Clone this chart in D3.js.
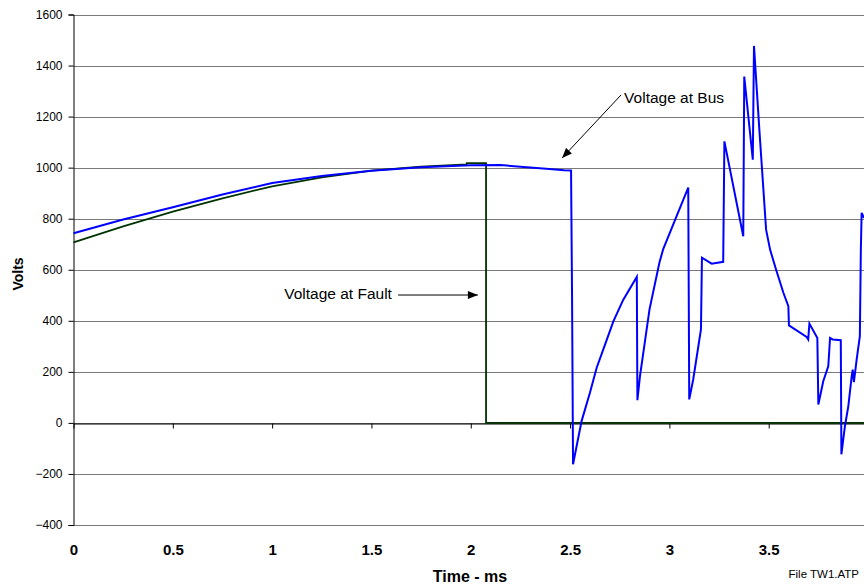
<!DOCTYPE html>
<html>
<head>
<meta charset="utf-8">
<script src="https://cdn.jsdelivr.net/npm/d3@7"></script>
<style>
  html, body { margin: 0; padding: 0; background: #fff; }
  svg { display: block; }
  text { font-family: Arial, "Liberation Sans", sans-serif; }
</style>
</head>
<body>
<svg id="chart" width="864" height="588"></svg>
<script>
// ---- data ----
const xTicks = [0, 0.5, 1, 1.5, 2, 2.5, 3, 3.5, 4];
const yTicks = [-400, -200, 0, 200, 400, 600, 800, 1000, 1200, 1400, 1600];

// Voltage at Bus (ms, V)
const busTime = [0, 0.25, 0.5, 0.75, 1.0, 1.25, 1.5, 1.75, 2.0, 2.15, 2.25, 2.38, 2.47, 2.505,
  2.510, 2.515, 2.558, 2.600, 2.634, 2.676, 2.718, 2.768, 2.836,
  2.839, 2.852, 2.900, 2.950, 2.969, 3.037, 3.095,
  3.100, 3.120, 3.159, 3.164, 3.213, 3.271, 3.277, 3.372, 3.377, 3.420, 3.426,
  3.453, 3.487, 3.507, 3.537, 3.574, 3.599, 3.602, 3.691, 3.699, 3.705, 3.745,
  3.750, 3.775, 3.800, 3.809, 3.822, 3.863, 3.866, 3.884, 3.901, 3.918, 3.923,
  3.929, 3.943, 3.959, 3.964, 3.968, 3.980];
const busVolts = [743, 797, 845, 895, 940, 967, 988, 1002, 1009, 1010, 1004, 996, 990, 989,
  502, -162, 7, 118, 216, 307, 398, 483, 572,
  89, 183, 445, 628, 681, 811, 922,
  92, 170, 366, 647, 624, 631, 1103, 731, 1357, 1031, 1477,
  1149, 757, 679, 601, 510, 457, 382, 337, 327, 389, 333,
  72, 164, 222, 333, 327, 324, -123, -12, 66, 183, 209,
  160, 249, 340, 679, 823, 803];

// Voltage at Fault (ms, V)
const faultTime = [0, 0.25, 0.5, 0.75, 1.0, 1.25, 1.5, 1.75, 1.98, 1.98, 2.077, 2.077, 4];
const faultVolts = [707, 770, 828, 880, 927, 962, 988, 1004, 1013, 1018, 1018, 0, 0];

// ---- chart ----
const svg = d3.select("#chart");
const x = d3.scaleLinear().domain([0, 4]).range([73.5, 868]);
const y = d3.scaleLinear().domain([-400, 1600]).range([525, 14.5]);
const font = "Arial, 'Liberation Sans', sans-serif";

// gridlines
svg.append("g").selectAll("line").data(yTicks).join("line")
  .attr("x1", x(0)).attr("x2", 864)
  .attr("y1", d => Math.round(y(d)) + 0.5).attr("y2", d => Math.round(y(d)) + 0.5)
  .attr("stroke", "#7a7a7a").attr("stroke-width", 1);

// y axis
const yAxis = svg.append("g").attr("transform", `translate(${x(0)},0)`)
  .call(d3.axisLeft(y).tickValues(yTicks).tickSize(5).tickPadding(6).tickFormat(d3.format("d")));
yAxis.selectAll("text").attr("font-size", 12).attr("font-family", font).attr("fill", "#000");
yAxis.selectAll("line, path").attr("stroke", "#000");

// x axis at zero line (ticks only)
const xAxis0 = svg.append("g").attr("transform", `translate(0,${Math.round(y(0)) + 0.5})`)
  .call(d3.axisBottom(x).tickValues(xTicks).tickSize(5).tickSizeOuter(0).tickFormat(""));
xAxis0.selectAll("line, path").attr("stroke", "#000");

// x tick labels at bottom
const xAxisLab = svg.append("g").attr("transform", `translate(0,525)`)
  .call(d3.axisBottom(x).tickValues(xTicks).tickSize(0).tickPadding(19).tickFormat(d3.format("")));
xAxisLab.select("path").remove();
xAxisLab.selectAll("text").attr("font-size", 15).attr("font-weight", "bold")
  .attr("font-family", font).attr("fill", "#000");

const line = d3.line().x(d => x(d[0])).y(d => y(d[1]));

// fault series
svg.append("path")
  .datum(faultTime.map((t, i) => [t, faultVolts[i]]))
  .attr("d", line).attr("fill", "none")
  .attr("stroke", "#003300").attr("stroke-width", 1.8);

// bus series
svg.append("path")
  .datum(busTime.map((t, i) => [t, busVolts[i]]))
  .attr("d", line).attr("fill", "none")
  .attr("stroke", "#0000ff").attr("stroke-width", 2).attr("stroke-linejoin", "miter");

// axis titles
svg.append("text").attr("x", 470).attr("y", 582).attr("text-anchor", "middle")
  .attr("font-size", 16).attr("font-weight", "bold").text("Time - ms");
svg.append("text").attr("transform", "translate(23,274) rotate(-90)").attr("text-anchor", "middle")
  .attr("font-size", 14).attr("font-weight", "bold").text("Volts");
svg.append("text").attr("x", 859).attr("y", 578).attr("text-anchor", "end")
  .attr("font-size", 11.5).text("File TW1.ATP");

// arrow marker
const defs = svg.append("defs");
defs.append("marker").attr("id", "arr").attr("viewBox", "0 0 10 8")
  .attr("refX", 10).attr("refY", 4).attr("markerWidth", 11).attr("markerHeight", 8)
  .attr("markerUnits", "userSpaceOnUse").attr("orient", "auto")
  .append("path").attr("d", "M0,0 L10,4 L0,8 Z").attr("fill", "#000");

// annotations (in data coordinates)
svg.append("line")
  .attr("x1", x(2.757)).attr("y1", y(1285)).attr("x2", x(2.46)).attr("y2", y(1038))
  .attr("stroke", "#000").attr("stroke-width", 1).attr("marker-end", "url(#arr)");
svg.append("text").attr("x", x(2.772)).attr("y", y(1255))
  .attr("font-size", 15.5).text("Voltage at Bus");

svg.append("line")
  .attr("x1", x(1.634)).attr("y1", y(501)).attr("x2", x(2.036)).attr("y2", y(501))
  .attr("stroke", "#000").attr("stroke-width", 1).attr("marker-end", "url(#arr)");
svg.append("text").attr("x", x(1.603)).attr("y", y(485)).attr("text-anchor", "end")
  .attr("font-size", 15.5).text("Voltage at Fault");
</script>
</body>
</html>
